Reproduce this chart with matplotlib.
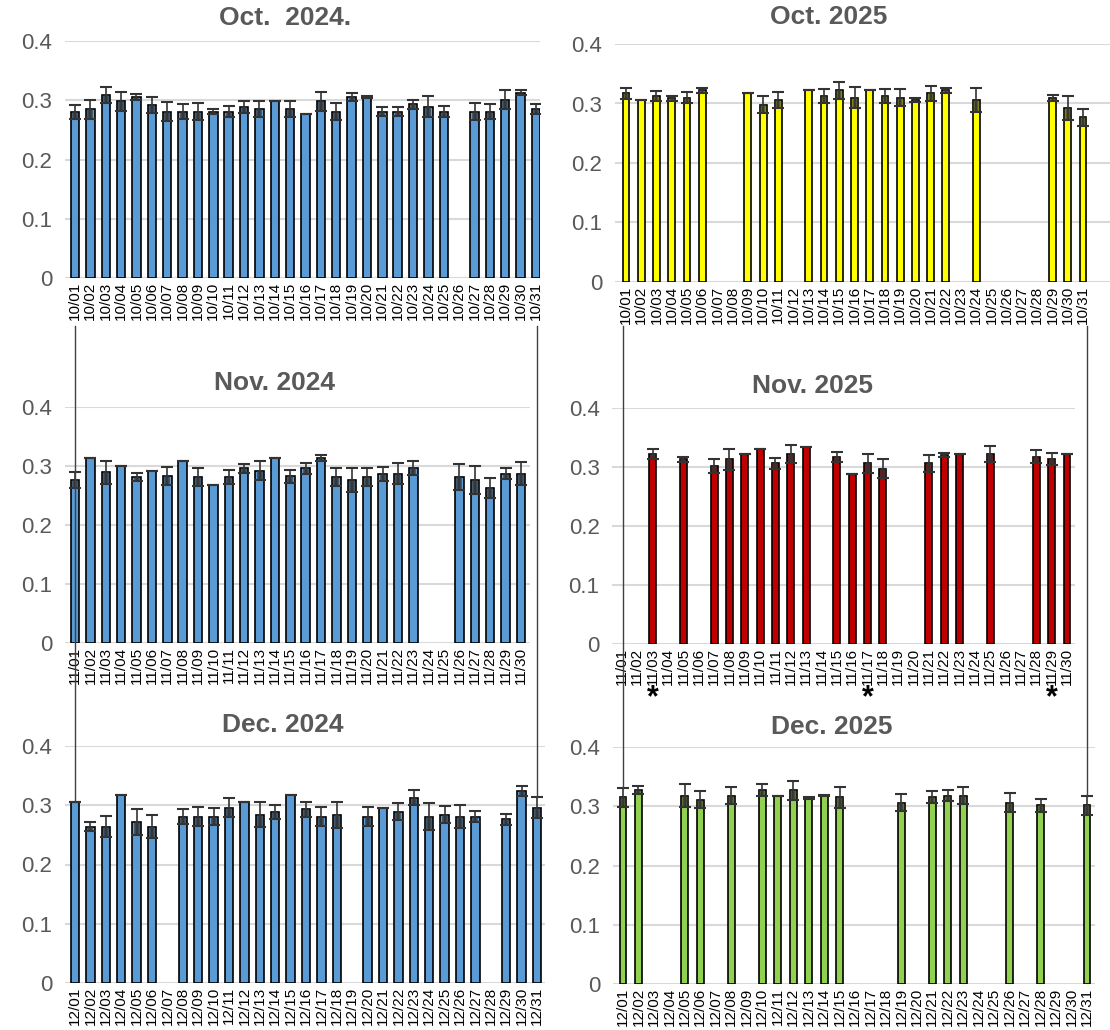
import numpy as np
import matplotlib
matplotlib.use("Agg")
import matplotlib.pyplot as plt
from matplotlib.lines import Line2D

plt.rcParams['font.family'] = ['Liberation Sans', 'DejaVu Sans']

nan = np.nan

# ---- data (mean and error per day, nan = no measurement) ----
oct24_mean = [0.280, 0.285, 0.309, 0.298, 0.305, 0.292, 0.281, 0.281, 0.281, 0.281, 0.281,
              0.289, 0.285, 0.298, 0.285, 0.276, 0.298, 0.281, 0.305, 0.305, 0.281, 0.281,
              0.293, 0.289, 0.281, nan, 0.281, 0.281, 0.301, 0.313, 0.285]
oct24_err = [0.012, 0.016, 0.013, 0.016, 0.005, 0.014, 0.016, 0.012, 0.015, 0.004, 0.010,
             0.010, 0.013, 0.0, 0.013, 0.0, 0.016, 0.015, 0.007, 0.002, 0.007, 0.007,
             0.008, 0.018, 0.010, nan, 0.015, 0.012, 0.016, 0.004, 0.008]

oct25_mean = [0.317, 0.306, 0.313, 0.309, 0.310, 0.322, nan, nan, 0.317, 0.298, 0.306,
              nan, 0.322, 0.313, 0.322, 0.310, 0.322, 0.313, 0.310, 0.306, 0.317, 0.322,
              nan, 0.306, nan, nan, nan, nan, 0.309, 0.293, 0.277]
oct25_err = [0.009, 0.0, 0.008, 0.004, 0.010, 0.004, nan, nan, 0.0, 0.014, 0.014,
             nan, 0.0, 0.012, 0.014, 0.018, 0.0, 0.012, 0.015, 0.004, 0.012, 0.004,
             nan, 0.020, nan, nan, nan, nan, 0.005, 0.020, 0.014]

nov24_mean = [0.276, 0.313, 0.289, 0.300, 0.281, 0.292, 0.283, 0.309, 0.281, 0.268,
              0.281, 0.296, 0.292, 0.313, 0.283, 0.296, 0.313, 0.281, 0.276, 0.281,
              0.287, 0.287, 0.296, nan, nan, 0.281, 0.276, 0.263, 0.287, 0.287]
nov24_err = [0.013, 0.0, 0.020, 0.0, 0.007, 0.0, 0.016, 0.0, 0.015, 0.0,
             0.012, 0.008, 0.016, 0.0, 0.011, 0.009, 0.005, 0.015, 0.020, 0.015,
             0.012, 0.018, 0.012, nan, nan, 0.022, 0.024, 0.017, 0.009, 0.020]

nov25_mean = [nan, nan, 0.322, nan, 0.313, nan, 0.302, 0.313, 0.322, 0.330,
              0.306, 0.322, 0.334, nan, 0.317, 0.288, 0.306, 0.297, nan, nan,
              0.306, 0.320, 0.322, nan, 0.322, nan, nan, 0.317, 0.313, 0.322]
nov25_err = [nan, nan, 0.008, nan, 0.004, nan, 0.012, 0.018, 0.0, 0.0,
             0.009, 0.016, 0.0, nan, 0.008, 0.0, 0.016, 0.016, nan, nan,
             0.014, 0.003, 0.0, nan, 0.014, nan, nan, 0.011, 0.010, 0.0]
nov25_star_days = [3, 17, 29]

dec24_mean = [0.306, 0.264, 0.264, 0.317, 0.272, 0.264, nan, 0.281, 0.281, 0.281, 0.296,
              0.306, 0.284, 0.289, 0.317, 0.293, 0.281, 0.284, nan, 0.281, 0.296, 0.289,
              0.313, 0.281, 0.284, 0.281, 0.281, nan, 0.276, 0.324, 0.296]
dec24_err = [0.0, 0.008, 0.018, 0.0, 0.022, 0.020, nan, 0.012, 0.016, 0.015, 0.016,
             0.0, 0.021, 0.012, 0.0, 0.012, 0.016, 0.022, nan, 0.016, 0.0, 0.014,
             0.012, 0.022, 0.014, 0.020, 0.010, nan, 0.010, 0.008, 0.018]

dec25_mean = [0.315, 0.327, nan, nan, 0.318, 0.311, nan, 0.318, nan, 0.327, 0.318,
              0.327, 0.314, 0.318, 0.315, nan, nan, nan, 0.306, nan, 0.315, 0.318,
              0.318, nan, nan, 0.306, nan, 0.302, nan, nan, 0.302]
dec25_err = [0.016, 0.007, nan, nan, 0.019, 0.014, nan, 0.014, nan, 0.010, 0.0,
             0.016, 0.002, 0.001, 0.018, nan, nan, nan, 0.014, nan, 0.010, 0.009,
             0.015, nan, nan, 0.016, nan, 0.011, nan, nan, 0.016]

W, H = 1110, 1030
fig = plt.figure(figsize=(W / 100, H / 100), dpi=100)

grey = '#595959'


def panel(month, mean, err, color, title, first_x, last_x, left, right, ytop, ybot,
          title_xy, bw):
    n = len(mean)
    step = (last_x - first_x) / (n - 1)
    x0 = -(first_x - left) / step
    x1 = (right - first_x) / step
    ax = fig.add_axes([left / W, 1 - ybot / H, (right - left) / W, (ybot - ytop) / H])
    ax.patch.set_visible(False)
    x = np.arange(n)
    m = np.array(mean, dtype=float)
    e = np.array(err, dtype=float)
    ok = ~np.isnan(m)
    ax.bar(x[ok], m[ok], width=bw, color=color, edgecolor='black', linewidth=1.2, zorder=3)
    # lower half of the error bar drawn dark inside the bar, upper half thin
    ax.errorbar(x[ok], m[ok], yerr=[e[ok], np.zeros(ok.sum())], fmt='none',
                ecolor='#333333', elinewidth=4, alpha=0.8, capsize=0, zorder=4)
    ax.errorbar(x[ok], m[ok], yerr=[e[ok], e[ok]], fmt='none', ecolor='#333333',
                elinewidth=1.2, capsize=4.5, capthick=1.5, zorder=4)
    ax.set_xlim(x0, x1)
    ax.set_ylim(0, 0.4)
    ax.set_yticks([0, 0.1, 0.2, 0.3, 0.4])
    ax.set_yticklabels(['0', '0.1', '0.2', '0.3', '0.4'])
    ax.set_xticks(x)
    ax.set_xticklabels([f'{month:02d}/{d:02d}' for d in range(1, n + 1)], rotation=90)
    ax.tick_params(axis='y', length=0, labelsize=16, labelcolor=grey, pad=9)
    ax.tick_params(axis='x', length=0, labelsize=11, pad=3)
    ax.yaxis.grid(True, color='#d9d9d9', linewidth=1.5, zorder=0)
    ax.set_axisbelow(True)
    for s in ax.spines.values():
        s.set_visible(False)
    fig.text(title_xy[0] / W, 1 - title_xy[1] / H, title, ha='center', va='center',
             fontsize=19, fontweight='bold', color=grey)
    return ax


ax_o24 = panel(10, oct24_mean, oct24_err, '#5B9BD5', 'Oct.  2024.',
               75, 536, 65, 540, 41, 278, (285, 18), 0.55)
ax_o25 = panel(10, oct25_mean, oct25_err, '#FFFF00', 'Oct. 2025',
               626, 1083, 615, 1110, 44, 282, (829, 17), 0.45)
ax_n24 = panel(11, nov24_mean, nov24_err, '#5B9BD5', 'Nov. 2024',
               75, 521, 65, 530, 407, 643, (275, 383), 0.55)
ax_n25 = panel(11, nov25_mean, nov25_err, '#C00000', 'Nov. 2025',
               622, 1067, 612, 1075, 408, 644, (812, 386), 0.45)
ax_d24 = panel(12, dec24_mean, dec24_err, '#5B9BD5', 'Dec. 2024',
               75, 537, 65, 545, 746, 983, (283, 725), 0.55)
ax_d25 = panel(12, dec25_mean, dec25_err, '#92D050', 'Dec. 2025',
               623, 1087, 613, 1095, 747, 984, (832, 727), 0.45)

# significance marks under Nov. 2025
for d in nov25_star_days:
    ax_n25.text(d - 1, -0.092, '*', ha='center', va='center', fontsize=22,
                fontweight='bold', color='black', clip_on=False, zorder=10)

# bracket lines joining the months
inv = fig.transFigure.inverted()


def bracket(ax, idx, mean, err, ytop_px):
    top = mean[idx] + (0 if np.isnan(err[idx]) else err[idx])
    xd, yd = ax.transData.transform((idx, top))
    xf, yf = inv.transform((xd, yd))
    fig.add_artist(Line2D([xf, xf], [1 - ytop_px / H, yf], color='#404040', linewidth=1))


bracket(ax_d24, 0, dec24_mean, [0] * 31, 326)
bracket(ax_d24, 30, dec24_mean, dec24_err, 326)
bracket(ax_d25, 0, dec25_mean, dec25_err, 326)
bracket(ax_d25, 30, dec25_mean, dec25_err, 326)

fig.savefig('out.png', dpi=100)
